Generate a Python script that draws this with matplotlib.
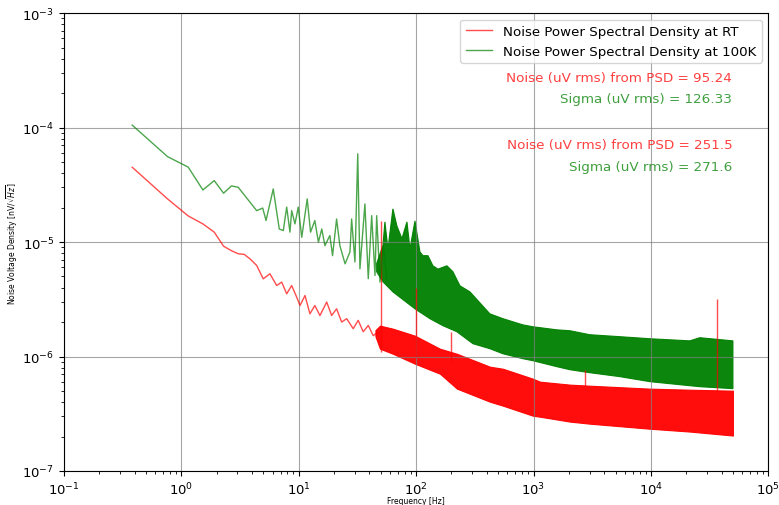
import numpy as np
import matplotlib
matplotlib.use("Agg")
import matplotlib.pyplot as plt

# ---- room temperature (RT) ----
# low frequency part, point by point
rt_freq = [0.381, 0.762, 1.143, 1.524, 1.905, 2.286, 2.667, 3.048, 3.43, 3.84,
           4.38, 4.98, 5.68, 6.48, 7.15, 7.89, 8.70, 9.60, 10.24, 11.3,
           12.45, 13.7, 15.15, 17.3, 19.06, 21.0, 23.2, 25.6, 29.1, 32.1,
           35.4, 39.1, 43.1, 47.5]
rt_psd = [4.5e-5, 2.38e-5, 1.69e-5, 1.44e-5, 1.22e-5, 9.2e-6, 8.4e-6, 7.9e-6, 7.8e-6, 7.13e-6,
          6.24e-6, 4.77e-6, 5.28e-6, 4.17e-6, 4.47e-6, 3.53e-6, 4.17e-6, 3.30e-6, 2.79e-6, 3.41e-6,
          2.36e-6, 2.79e-6, 2.28e-6, 2.99e-6, 2.28e-6, 2.61e-6, 2.00e-6, 2.14e-6, 1.75e-6, 2.07e-6,
          1.645e-6, 1.87e-6, 1.52e-6, 1.645e-6]
# dense part: band envelope
rt_band_f = [45.0, 49.2, 63.4, 97.7, 159.5, 222.6, 425, 549, 988, 1134, 2042, 3020, 9806, 21480, 50000]
rt_band_hi = [1.70e-6, 1.86e-6, 1.75e-6, 1.52e-6, 1.17e-6, 1.057e-6, 8.15e-7, 7.82e-7, 6.40e-7, 6.03e-7,
              5.68e-7, 5.56e-7, 5.24e-7, 5.13e-7, 5.03e-7]
rt_band_lo = [1.50e-6, 1.17e-6, 1.057e-6, 8.65e-7, 7.08e-7, 5.24e-7, 4.03e-7, 3.72e-7, 3.04e-7, 2.98e-7,
              2.70e-7, 2.59e-7, 2.34e-7, 2.21e-7, 2.04e-7]
# spikes
rt_spike_f = [50, 100, 200, 2750, 36500]
rt_spike_top = [1.54e-5, 4.0e-6, 1.64e-6, 7.6e-7, 3.19e-6]
rt_spike_base = [1.1e-6, 1.0e-6, 9e-7, 5.5e-7, 5.0e-7]

# ---- 100K ----
lk_freq = [0.381, 0.762, 1.143, 1.524, 1.905, 2.286, 2.667, 3.048, 3.43, 3.84,
           4.38, 4.93, 5.26, 6.06, 6.82, 7.38, 7.89, 8.41, 8.70, 9.28,
           9.90, 10.6, 11.8, 12.6, 13.7, 14.7, 15.7, 16.7, 18.4, 19.4,
           21.0, 22.4, 24.8, 27.3, 28.2, 30.1, 31.8, 33.2, 36.6, 39.1,
           41.8, 44.6, 46.1, 49.2, 52.5, 56.1]
lk_psd = [1.05e-4, 5.57e-5, 4.51e-5, 2.85e-5, 3.44e-5, 2.67e-5, 3.09e-5, 3.01e-5, 2.58e-5, 2.23e-5,
          1.88e-5, 1.98e-5, 1.54e-5, 2.91e-5, 1.30e-5, 1.26e-5, 2.02e-5, 1.22e-5, 1.88e-5, 1.44e-5,
          2.02e-5, 1.10e-5, 2.38e-5, 1.22e-5, 1.54e-5, 9.97e-6, 1.30e-5, 9.3e-6, 1.14e-5, 7.6e-6,
          1.59e-5, 9.3e-6, 6.45e-6, 8.2e-6, 1.59e-5, 6.7e-6, 5.89e-5, 5.83e-6, 2.15e-5, 4.78e-6,
          1.70e-5, 5.1e-6, 1.70e-5, 4.47e-6, 9.3e-6, 4.78e-6]
lk_top_f = [46.1, 52.1, 54.2, 57.5, 63.4, 68.6, 75.7, 83.5, 88.6, 97.7, 107.8, 114.3, 126.1, 139.0,
            153.4, 183.0, 205.8, 236.1, 287.3, 425, 549, 812, 988, 1582, 2042, 3020, 5445,
            9806, 21480, 26120, 50000]
lk_top_v = [6.5e-6, 9.3e-6, 1.50e-5, 8.7e-6, 1.95e-5, 1.38e-5, 1.07e-5, 1.50e-5, 8.7e-6, 1.53e-5, 8.2e-6,
            7.6e-6, 7.6e-6, 6.2e-6, 5.8e-6, 6.2e-6, 5.5e-6, 4.15e-6, 3.67e-6, 2.36e-6, 2.14e-6,
            1.89e-6, 1.82e-6, 1.71e-6, 1.68e-6, 1.55e-6, 1.49e-6, 1.43e-6, 1.37e-6, 1.46e-6, 1.37e-6]
lk_bot_f = [46.1, 52.1, 63.4, 97.7, 131, 169, 222.6, 304.7, 425, 549, 812, 988, 1582, 2042, 3020,
            5445, 9806, 21480, 26120, 50000]
lk_bot_v = [5.5e-6, 4.5e-6, 3.67e-6, 2.61e-6, 2.14e-6, 1.86e-6, 1.645e-6, 1.294e-6, 1.17e-6, 1.057e-6,
            9.57e-7, 9.19e-7, 8.15e-7, 7.67e-7, 7.22e-7, 6.67e-7, 6.03e-7, 5.56e-7, 5.45e-7, 5.24e-7]

notes = ["Noise (uV rms) from PSD = 95.24", "Sigma (uV rms) = 126.33",
         "Noise (uV rms) from PSD = 251.5", "Sigma (uV rms) = 271.6"]
note_colors = ["red", "green", "red", "green"]

fig = plt.figure(figsize=(7.79, 5.06), dpi=100)
ax = fig.add_axes([0.0822, 0.0672, 0.904, 0.905])

# RT
ax.plot(rt_freq, rt_psd, color="red", alpha=0.7, lw=1.0, label="Noise Power Spectral Density at RT")
ax.fill_between(rt_band_f, rt_band_lo, rt_band_hi, color="red", lw=0.8, alpha=0.95)
ax.vlines(rt_spike_f, rt_spike_base, rt_spike_top, color="red", alpha=0.7, lw=1.0)

# 100K
ax.plot(lk_freq, lk_psd, color="green", alpha=0.7, lw=1.0, label="Noise Power Spectral Density at 100K")
poly_f = np.r_[lk_top_f, lk_bot_f[::-1]]
poly_v = np.r_[lk_top_v, lk_bot_v[::-1]]
ax.fill(poly_f, poly_v, color="green", lw=0.8, alpha=0.95)

ax.set_xscale("log")
ax.set_yscale("log")
ax.set_xlim(1e-1, 1e5)
ax.set_ylim(1e-7, 1e-3)
ax.grid(True, which="major", color="gray", lw=0.8, alpha=0.7)
ax.tick_params(labelsize=9.5)
ax.set_xlabel("Frequency [Hz]", fontsize=5.5)
ax.set_ylabel(r"Noise Voltage Density [nV/$\sqrt{Hz}$]", fontsize=5.5)
ax.xaxis.set_label_coords(0.5, -0.055)
ax.yaxis.set_label_coords(-0.062, 0.5)

ax.legend(loc="upper right", fontsize=9.6)

ys = [0.860, 0.814, 0.712, 0.666]
for t, c, y in zip(notes, note_colors, ys):
    ax.text(0.949, y, t, color=c, alpha=0.75, fontsize=9.7, ha="right", va="center",
            transform=ax.transAxes)

fig.savefig("out.png", dpi=100)
